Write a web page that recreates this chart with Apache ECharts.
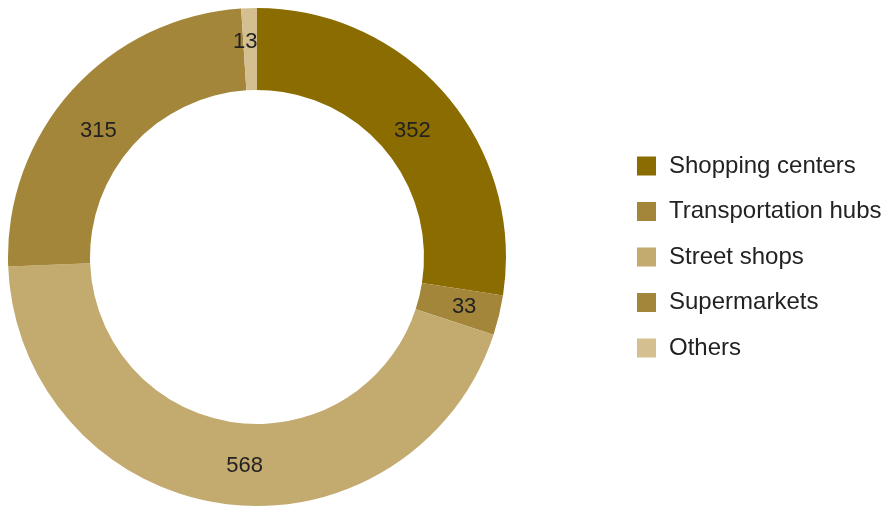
<!DOCTYPE html>
<html>
<head>
<meta charset="utf-8">
<script src="https://cdn.jsdelivr.net/npm/echarts@6/dist/echarts.min.js"></script>
<style>
  html, body { margin: 0; padding: 0; background: #fff; }
  #chart { width: 886px; height: 506px; }
</style>
</head>
<body>
<div id="chart"></div>
<script>
const categories = ['Shopping centers', 'Transportation hubs', 'Street shops', 'Supermarkets', 'Others'];
const values = [352, 33, 568, 315, 13];
const colors = ['#8a6c00', '#a3863a', '#c3aa6f', '#a3863a', '#d3bf8f'];
// small nudges so the value labels sit where the original put them
const labelNudge = [[-5, 11], [2, 0], [17, 0], [-2, 15], [-5, -4]];

const chart = echarts.init(document.getElementById('chart'));

chart.setOption({
    animation: false,
    textStyle: { fontFamily: 'Helvetica, Arial, "Liberation Sans", sans-serif' },
    legend: {
        orient: 'vertical',
        left: 637,
        top: 154,
        padding: 0,
        itemWidth: 19,
        itemHeight: 19,
        itemGap: 21.5,
        icon: 'rect',
        data: categories,
        textStyle: { fontSize: 24, color: '#222', padding: [0, 0, 0, 8] }
    },
    series: [
        {
            type: 'pie',
            center: [257, 257],
            radius: [167, 249],
            startAngle: 90,
            clockwise: true,
            label: {
                show: true,
                position: 'inside',
                formatter: '{c}',
                fontSize: 22,
                color: '#222'
            },
            labelLine: { show: false },
            emphasis: { disabled: true },
            data: categories.map((name, i) => ({
                name: name,
                value: values[i],
                itemStyle: { color: colors[i] },
                label: { offset: labelNudge[i] }
            }))
        }
    ]
});
</script>
</body>
</html>
